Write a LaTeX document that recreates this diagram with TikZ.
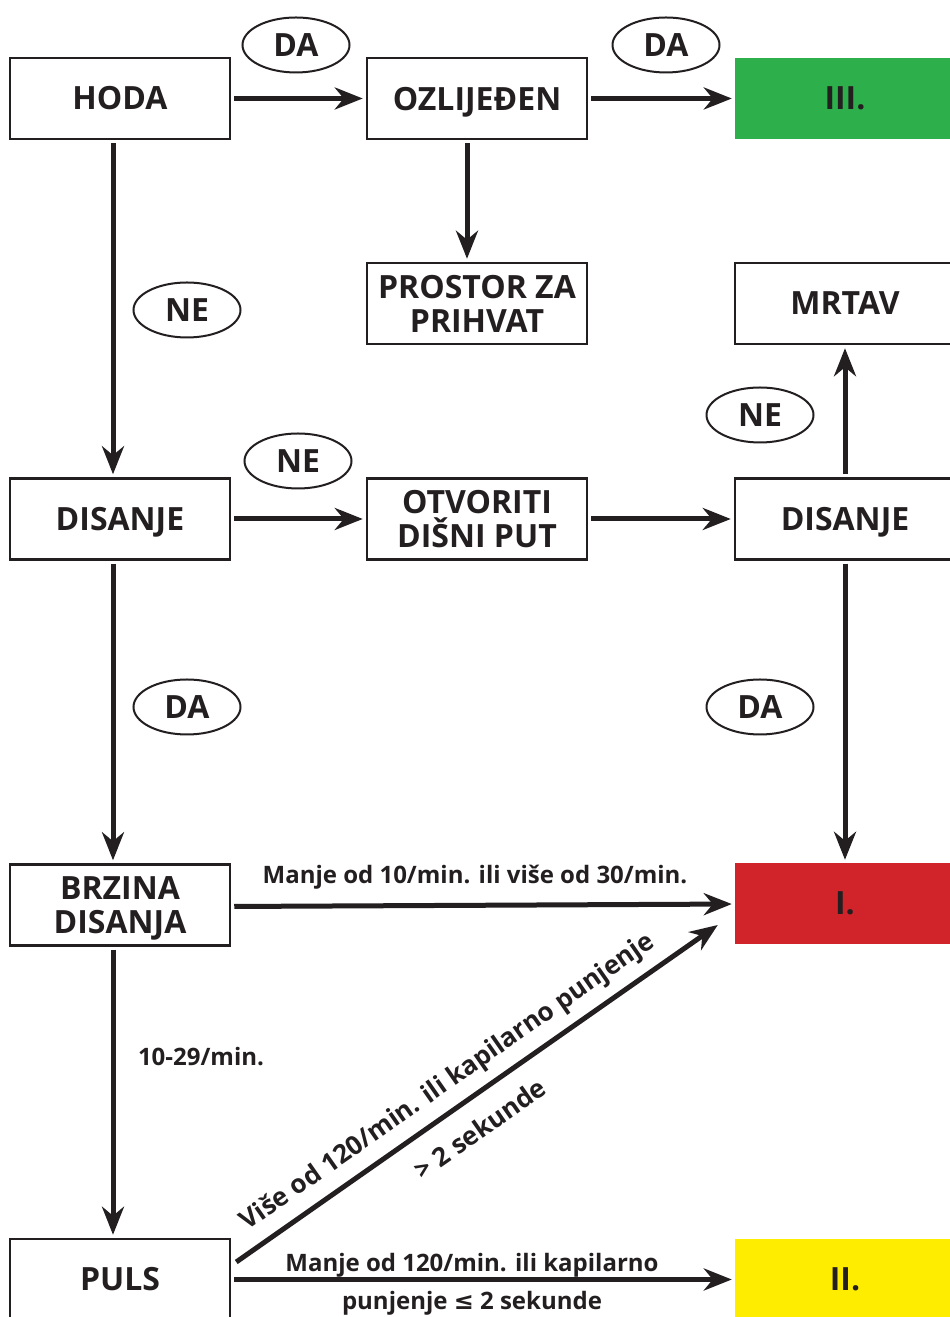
\documentclass[tikz,border=0pt]{standalone}
\usepackage{fontspec}
\setmainfont{Open Sans}
\newfontfamily\symfont{DejaVu Sans}
\usetikzlibrary{arrows.meta,shapes.geometric}
\definecolor{ink}{HTML}{231F20}
\definecolor{catgreen}{HTML}{2DB04B}
\definecolor{catred}{HTML}{D1232A}
\definecolor{catyellow}{HTML}{FFED00}
\newcommand{\boxfont}{\fontsize{32}{34}\selectfont\bfseries}
\newcommand{\lblfont}{\fontsize{24}{38}\selectfont\bfseries}
\newcommand{\slopefont}{\fontsize{26}{30}\selectfont\bfseries}

\begin{document}
\begin{tikzpicture}[x=1pt,y=1pt,
  box/.style={rectangle,draw=ink,line width=2.5pt,minimum width=220pt,minimum height=81pt,inner sep=0pt,align=center,font=\boxfont,text=ink},
  cat/.style={rectangle,minimum width=220pt,minimum height=81pt,inner sep=0pt,font=\boxfont,text=ink},
  ans/.style={ellipse,draw=ink,line width=2pt,minimum width=107pt,minimum height=55pt,inner sep=0pt,font=\boxfont,text=ink},
  arr/.style={draw=ink,line width=5pt,-{Stealth[length=28pt,width=22pt,inset=9pt]},shorten <=3pt,shorten >=3pt},
  lbl/.style={font=\lblfont,text=ink,inner sep=0pt,align=center}]

\useasboundingbox (0,0) rectangle (950,1317);

% first row
\node[box] (hoda) at (120,1218.5) {HODA};
\node[box,text depth=0pt] (ozlj) at (477,1218.5) {OZLIJEĐEN};
\node[cat,fill=catgreen] (triIII) at (845,1218.5) {III.};

\node[box] (prostor) at (477,1013.5) {PROSTOR ZA\\PRIHVAT};
\node[box] (mrtav) at (845,1013.5) {MRTAV};

% breathing row
\node[box,text depth=0pt] (dis1) at (120,798) {DISANJE};
\node[box] (otvor) at (477,798) {OTVORITI\\DIŠNI PUT};
\node[box,text depth=0pt] (dis2) at (845,798) {DISANJE};

\node[box] (brzina) at (120,412) {BRZINA\\\smash{DISANJA}};
\node[cat,fill=catred] (triI) at (845,413.5) {I.};

\node[box] (puls) at (120,37.5) {PULS};
\node[cat,fill=catyellow] (triII) at (845,37.5) {II.};

% answers
\node[ans] (da1) at (296,1272) {DA};
\node[ans] (da2) at (666,1272) {DA};
\node[ans] (ne1) at (187,1007) {NE};
\node[ans] (ne2) at (298,856) {NE};
\node[ans] (ne3) at (760,902) {NE};
\node[ans] (da3) at (187,610) {DA};
\node[ans] (da4) at (760,610) {DA};

% arrows
\draw[arr] (hoda) -- (ozlj);
\draw[arr] (ozlj) -- (triIII);
\draw[arr] ([xshift=-10pt]ozlj.south) -- ([xshift=-10pt]prostor.north);
\draw[arr] ([xshift=-7pt]hoda.south) -- ([xshift=-7pt]dis1.north);

\draw[arr] (dis1) -- (otvor);
\draw[arr] (otvor) -- (dis2);
\draw[arr] (dis2.north) -- (mrtav.south);
\draw[arr] (dis2.south) -- (triI.north);
\draw[arr] ([xshift=-7pt]dis1.south) -- ([xshift=-7pt]brzina.north);

\draw[arr] ([yshift=-1.5pt]brzina.east) -- (triI);
\draw[arr] ([xshift=-7pt]brzina.south) -- ([xshift=-7pt]puls.north);

\coordinate (dstart) at ([shift={(5,17.5)}]puls.east);
\coordinate (dend) at ([shift={(-17,-21.5)}]triI.west);
\draw[arr,shorten <=0pt,shorten >=0pt] (dstart) -- (dend)
  node[lbl,font=\slopefont,pos=0.47,sloped,above=10pt] (lblup) {Više od 120/min. ili kapilarno punjenje}
  node[lbl,font=\slopefont,pos=0.47,sloped,below=18pt] (lbldown) {> 2 sekunde};
\draw[arr] (puls) -- (triII);

% labels
\node[lbl] (lblfast) at (475,440) {Manje od 10/min. ili više od 30/min.};
\node[lbl] (lblnorm) at (201,260) {10-29/min.};
\node[lbl] (lblpuls) at (472,33) {Manje od 120/min. ili kapilarno\\punjenje {\symfont ≤} 2 sekunde};

\end{tikzpicture}
\end{document}
